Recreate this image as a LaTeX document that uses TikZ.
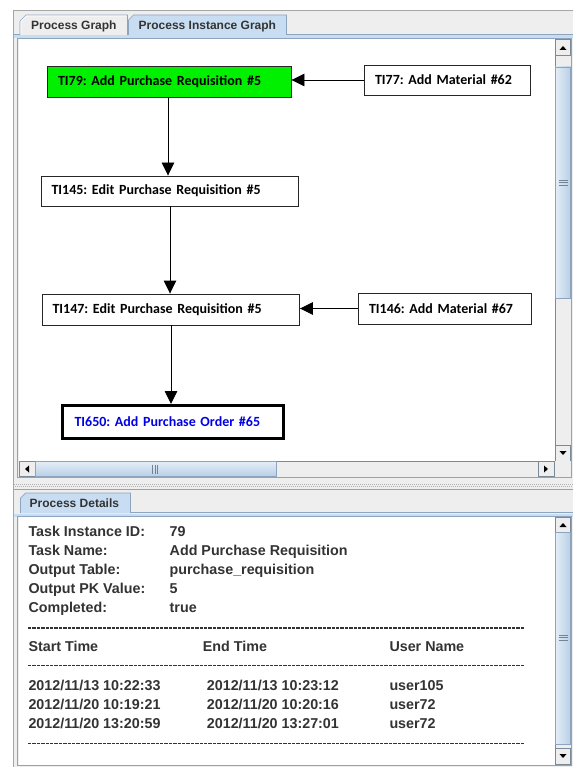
\documentclass[tikz,border=0pt]{standalone}
\usepackage{fontspec}
\setmainfont{Liberation Sans}
\newfontfamily\calib{Carlito}
\usetikzlibrary{arrows.meta}
\definecolor{bg}{HTML}{EEEEEE}
\definecolor{selblue}{HTML}{C8DDF2}
\definecolor{edge}{HTML}{7A8A99}
\definecolor{paneedge}{HTML}{8DA4BE}
\definecolor{thumbA}{HTML}{E3EDF7}
\definecolor{thumbB}{HTML}{B8CFE5}
\definecolor{txt}{HTML}{333333}
\definecolor{nodegreen}{HTML}{00F000}
\definecolor{nodeblue}{HTML}{0000E6}
\frenchspacing
\tikzset{
  box/.style={draw=black!85, line width=0.9pt, rectangle, inner ysep=0pt, inner xsep=11pt,
    align=left, font=\frenchspacing\calib\bfseries\fontsize{14}{16}\selectfont},
  conn/.style={line width=0.9pt, draw=black, -{Triangle[length=13pt,width=12.5pt]}},
  dtext/.style={anchor=base west, inner sep=0pt, text=txt, font=\frenchspacing\bfseries\fontsize{14.3}{16}\selectfont},
  tabtext/.style={anchor=base west, inner sep=0pt, text=txt, font=\bfseries\fontsize{12}{14}\selectfont},
  dashline/.style={draw=txt, line width=1.4pt, dash pattern=on 3.3pt off 1.1pt},
  btn/.style={fill=bg, draw=edge, line width=0.6pt},
  thumbv/.style={left color=thumbA, right color=thumbB, draw=paneedge, line width=0.7pt},
  thumbh/.style={top color=thumbA, bottom color=thumbB, draw=paneedge, line width=0.7pt},
  tabshape/.style={draw=paneedge, line width=0.7pt},
  grip/.style={draw=paneedge!80!black, line width=0.6pt}
}
\begin{document}
\begin{tikzpicture}[x=1pt,y=-1pt]
\useasboundingbox (0,0) rectangle (573,767);
\fill[white] (0,0) rectangle (573,767);
% window background
\fill[bg] (13.5,10) rectangle (573,767);
\draw[draw=black!35, line width=0.8pt] (13.5,767) -- (13.5,10.5) -- (573,10.5);

% ---------- top tabbed pane ----------
\fill[selblue] (14,35) rectangle (573,38.5);
\draw[tabshape] (14,34.5) -- (128,34.5);
\draw[tabshape] (286,34.5) -- (573,34.5);
\draw[tabshape, fill=bg] (20,35) -- (20,21) -- (26,15) -- (127.5,15) -- (127.5,35);
\draw[white, line width=0.6pt] (21,34.5) -- (21,21.5) -- (26.5,16) -- (126.5,16);
\draw[tabshape, fill=selblue] (128.5,35) -- (128.5,20) -- (133.5,15) -- (286.5,15) -- (286.5,35);
\fill[selblue] (129,34) rectangle (286,36);
\node[tabtext] (tab1) at (31,29.5) {Process Graph};
\node[tabtext] (tab2) at (138.5,29.5) {Process Instance Graph};

% graph scroll pane
\draw[draw=paneedge, line width=0.8pt] (17.5,38.5) rectangle (571.5,477.5);
\fill[white] (18.5,39) rectangle (555,461);
% vertical scrollbar
\fill[bg] (555,39) rectangle (571,461);
\draw[edge, line width=0.6pt] (555,39) -- (555,461);
\draw[btn] (555.5,39.5) rectangle (570.5,55);
\fill[black] (559.5,50) -- (566.5,50) -- (563,46) -- cycle;
\draw[thumbv] (555.5,67) rectangle (570.5,298);
\foreach \yy in {180,182.5,185} \draw[grip] (558.5,\yy) -- (567.5,\yy);
\draw[btn] (555.5,445.5) rectangle (570.5,461);
\fill[black] (559.5,451) -- (566.5,451) -- (563,455) -- cycle;
% horizontal scrollbar
\fill[bg] (18.5,461) rectangle (571,477);
\draw[edge, line width=0.6pt] (18.5,461) -- (555,461);
\draw[btn] (19,461.5) rectangle (35,476.5);
\fill[black] (25,469) -- (29,465.5) -- (29,472.5) -- cycle;
\draw[thumbh] (35.5,461.5) rectangle (276,476.5);
\foreach \xx in {152.5,155,157.5} \draw[grip] (\xx,464.5) -- (\xx,473.5);
\draw[btn] (538,461.5) rectangle (554,476.5);
\fill[black] (548,469) -- (544,465.5) -- (544,472.5) -- cycle;

% splitter
\draw[draw=black!30, line width=0.6pt, dash pattern=on 1pt off 1pt] (14,484.5) -- (573,484.5);
\draw[draw=black!30, line width=0.6pt, dash pattern=on 1pt off 1pt] (15,486.5) -- (573,486.5);
\draw[draw=paneedge, line width=0.6pt] (14,489.5) -- (573,489.5);

% ---------- graph ----------
\node[box, fill=nodegreen, text width=222pt, minimum height=31pt] (ti79) at (169,81.5) {TI79: Add Purchase Requisition \#5};
\node[box, fill=white, text width=144pt, minimum height=30pt] (ti77) at (447,80) {TI77: Add Material \#62};
\node[box, fill=white, text width=237pt, minimum height=30pt, inner xsep=10pt] (ti145) at (170,191) {TI145: Edit Purchase Requisition \#5};
\node[box, fill=white, text width=237pt, minimum height=31pt, inner xsep=10pt] (ti147) at (171,309.5) {TI147: Edit Purchase Requisition \#5};
\node[box, fill=white, text width=151pt, minimum height=31pt] (ti146) at (444.5,308.5) {TI146: Add Material \#67};
\node[box, fill=white, line width=3pt, draw=black, text=nodeblue, text width=196pt, minimum height=33pt, inner xsep=12.5pt] (ti650) at (172.5,422) {TI650: Add Purchase Order \#65};

\draw[conn] (ti77.west) -- (ti77.west -| ti79.east);
\draw[conn] ([xshift=-1pt]ti79.south) -- ([xshift=-1pt]ti79.south |- ti145.north);
\draw[conn] (ti145.south) -- (ti145.south |- ti147.north);
\draw[conn] (ti146.west) -- (ti146.west -| ti147.east);
\draw[conn] (ti147.south) -- (ti147.south |- ti650.north);

% ---------- details tabbed pane ----------
\fill[selblue] (14,513.5) rectangle (573,516.5);
\draw[tabshape] (130,512.5) -- (573,512.5);
\draw[tabshape, fill=selblue] (20.5,513) -- (20.5,498) -- (25.5,493) -- (130.5,493) -- (130.5,513);
\node[tabtext] (tab3) at (29.5,507.5) {Process Details};

\draw[draw=paneedge, line width=0.8pt] (17.5,516.5) rectangle (571.5,765.5);
\fill[white] (18.5,517) rectangle (555,765);
\fill[bg] (555,517) rectangle (571,765);
\draw[edge, line width=0.6pt] (555,517) -- (555,765);
\draw[btn] (555.5,517.5) rectangle (570.5,532);
\fill[black] (559.5,527) -- (566.5,527) -- (563,523) -- cycle;
\draw[thumbv] (555.5,532) rectangle (570.5,744);
\foreach \yy in {635,637.5,640} \draw[grip] (558.5,\yy) -- (567.5,\yy);
\draw[btn] (555.5,748) rectangle (570.5,764);
\fill[black] (559.5,754) -- (566.5,754) -- (563,758) -- cycle;

% details text
\node[dtext] (l1) at (28.3,536.5) {Task Instance ID:};
\node[dtext] (l2) at (28.3,555.5) {Task Name:};
\node[dtext] (l3) at (28.3,574.6) {Output Table:};
\node[dtext] (l4) at (28.3,593.7) {Output PK Value:};
\node[dtext] (l5) at (28.3,612.7) {Completed:};
\node[dtext] (v1) at (169.5,536.5) {79};
\node[dtext] (v2) at (169.5,555.5) {Add Purchase Requisition};
\node[dtext] (v3) at (169.5,574.6) {purchase\_requisition};
\node[dtext] (v4) at (169.5,593.7) {5};
\node[dtext] (v5) at (169.5,612.7) {true};
\draw[dashline] (28,628) -- (524,628);
\node[dtext] (h1) at (28.3,651.7) {Start Time};
\node[dtext] (h2) at (202.7,651.7) {End Time};
\node[dtext] (h3) at (389.3,651.7) {User Name};
\draw[dashline] (28,665.5) -- (524,665.5);
\node[dtext] (s1) at (28.3,690) {2012/11/13 10:22:33};
\node[dtext] (e1) at (206.7,690) {2012/11/13 10:23:12};
\node[dtext] (u1) at (389.3,690) {user105};
\node[dtext] (s2) at (28.3,709.3) {2012/11/20 10:19:21};
\node[dtext] (e2) at (206.7,709.3) {2012/11/20 10:20:16};
\node[dtext] (u2) at (389.3,709.3) {user72};
\node[dtext] (s3) at (28.3,728.3) {2012/11/20 13:20:59};
\node[dtext] (e3) at (206.7,728.3) {2012/11/20 13:27:01};
\node[dtext] (u3) at (389.3,728.3) {user72};
\draw[dashline] (28,743.5) -- (524,743.5);
\end{tikzpicture}
\end{document}
